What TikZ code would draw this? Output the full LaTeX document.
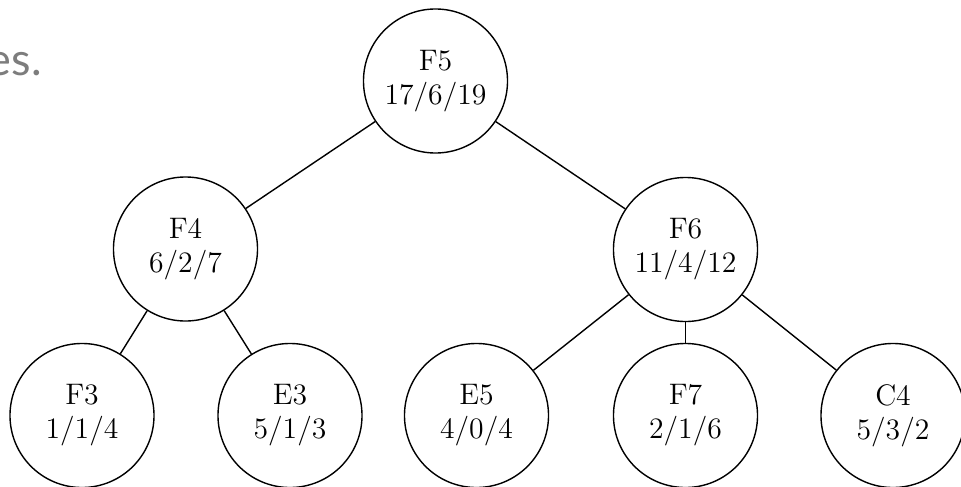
\documentclass[tikz,border=0pt]{standalone}
\usepackage{fontspec}
\newfontfamily\slidefont{Lato}
\newfontfamily\nodefont{lmroman12-regular.otf}
\definecolor{slidegray}{RGB}{125,125,125}
\begin{document}
\begin{tikzpicture}[x=0.025cm, y=-0.025cm,
  vertex/.style={circle, draw, line width=1pt, minimum size=3.6cm, inner sep=0pt,
    align=center, font=\nodefont\fontsize{21.1}{24.2}\selectfont},
  branch/.style={line width=1pt}]
  \useasboundingbox (0,0) rectangle (961,487);

  % fragment of the slide text
  \node[anchor=base east, inner sep=0pt, text=slidegray,
        font=\slidefont\fontsize{32}{38}\selectfont] (txt) at (42,75) {es.};

  % tree nodes
  \node[vertex] (f5) at (435.5,81)  {F5\\17/6/19};
  \node[vertex] (f4) at (185.5,249) {F4\\6/2/7};
  \node[vertex] (f6) at (685.5,249.5) {F6\\11/4/12};
  \node[vertex] (f3) at (82,415.5)  {F3\\1/1/4};
  \node[vertex] (e3) at (290,415.5) {E3\\5/1/3};
  \node[vertex] (e5) at (476.5,415.5) {E5\\4/0/4};
  \node[vertex] (f7) at (685.5,415.5) {F7\\2/1/6};
  \node[vertex] (c4) at (893,415.5) {C4\\5/3/2};

  % edges
  \draw[branch] (f5) -- (f4);
  \draw[branch] (f5) -- (f6);
  \draw[branch] (f4) -- (f3);
  \draw[branch] (f4) -- (e3);
  \draw[branch] (f6) -- (e5);
  \draw[branch] (f6) -- (f7);
  \draw[branch] (f6) -- (c4);
\end{tikzpicture}
\end{document}
